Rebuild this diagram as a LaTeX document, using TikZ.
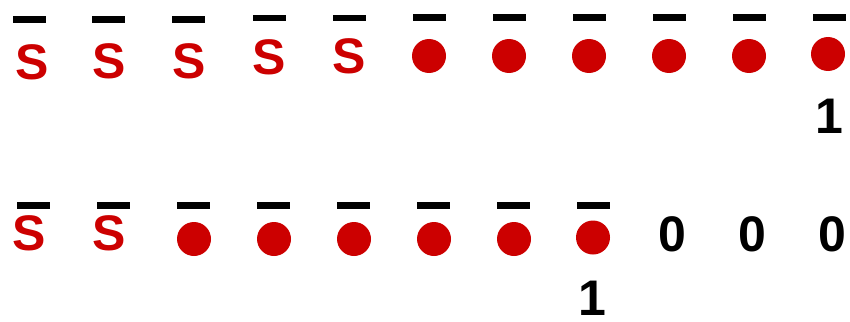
\documentclass[tikz,border=0pt]{standalone}
\usepackage{fontspec}
\setmainfont{Liberation Sans}
\usepackage{xcolor}
\usetikzlibrary{positioning}
\definecolor{spinred}{HTML}{CC0000}

\begin{document}
\begin{tikzpicture}[x=1pt,y=-1pt,
  dashbar/.style={fill=black,inner sep=0pt,minimum width=33pt,minimum height=6.5pt},
  ball/.style={circle,fill=spinred,inner sep=0pt,minimum size=34pt},
  digit/.style={inner sep=0pt,font=\fontsize{50}{60}\selectfont\bfseries},
  letter/.style={digit,text=spinred}]
\useasboundingbox (0,0) rectangle (850,321);
% top row
\foreach \i/\x/\y in {1/29.5/19.5,2/108/19.5,3/188/19.5,4/269.5/18,5/349.5/18,6/429.5/17.5,
  7/509.5/17.5,8/589.5/17.5,9/669.5/17.5,10/749.5/17.5,11/829.5/17.5}
  \node[dashbar] (tbar\i) at (\x,\y) {};
\foreach \i/\x/\y in {1/32.5/62,2/109.5/61,3/189.5/61,4/269.5/57,5/349.5/56.5}
  \node[letter] (ts\i) at (\x,\y) {S};
\foreach \i/\x/\y in {6/429/56,7/509/56,8/589/56,9/669/56,10/749/56,11/828/54}
  \node[ball] (tdot\i) at (\x,\y) {};
\node[digit] (tone) at (829,116) {1};
% bottom row
\foreach \i/\x in {1/33,2/113,3/193,4/273,5/353,6/433,7/513,8/593}
  \node[dashbar] (bbar\i) at (\x,205.5) {};
\foreach \i/\x in {1/29.5,2/109.5}
  \node[letter] (bs\i) at (\x,233) {S};
\foreach \i/\x/\y in {3/194/239,4/274/239,5/354/239,6/434/239,7/514/239,8/593/237.5}
  \node[ball] (bdot\i) at (\x,\y) {};
\foreach \i/\x in {9/672.5,10/752.5,11/832.5}
  \node[digit] (bzero\i) at (\x,234.5) {0};
\node[digit] (bone) at (592,298) {1};
\end{tikzpicture}
\end{document}
